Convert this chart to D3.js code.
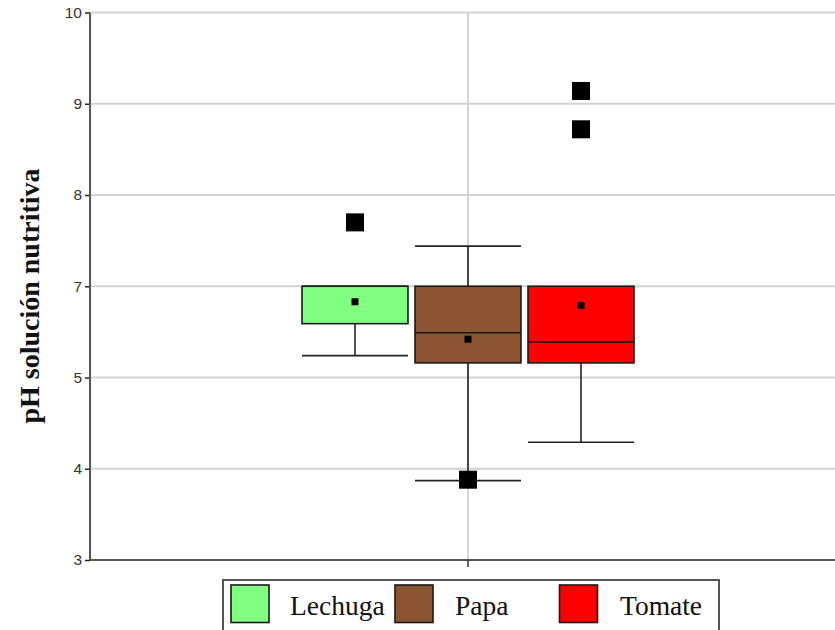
<!DOCTYPE html>
<html>
<head>
<meta charset="utf-8">
<script src="https://cdn.jsdelivr.net/npm/d3@7"></script>
<style>
  html, body { margin: 0; padding: 0; background: #fff; }
  svg { display: block; }
</style>
</head>
<body>
<svg id="chart" width="835" height="630"></svg>
<script>
// ---- data ----
const categories = [""];
const series = ["Lechuga", "Papa", "Tomate"];
const colors = ["#80ff80", "#8c5431", "#ff0000"];
// box statistics (in axis position units)
const q1 = [5.59, 5.16, 5.16];
const median = [6.0, 5.49, 5.39];
const q3 = [6.0, 6.0, 6.0];
const whiskerLow = [5.24, 3.87, 4.29];
const whiskerHigh = [6.0, 6.44, 6.0];
const means = [5.83, 5.42, 5.79];
const outliers = [[6.70], [3.88], [8.14, 7.72]];
// tick positions and their printed labels (as shown in the original)
const tickValues = [3, 4, 5, 6, 7, 8, 9];
const tickLabels = ["3", "4", "5", "7", "8", "9", "10"];
const yTitle = "pH solución nutritiva";

// ---- layout ----
const svg = d3.select("#chart");
const mLeft = 90, mRight = 846, mTop = 12.5, mBottom = 560;

const y = d3.scaleLinear().domain([3, 9]).range([mBottom, mTop]);
const x0 = d3.scaleBand().domain(categories).range([mLeft, mRight]);
const cx = x0(categories[0]) + x0.bandwidth() / 2;
const x1 = d3.scaleBand().domain(series)
  .range([cx - 169.5, cx + 169.5]).paddingInner(0.062).paddingOuter(0.031);

// gridlines
svg.append("g").selectAll("line").data(tickValues.slice(1)).join("line")
  .attr("x1", mLeft).attr("x2", 835)
  .attr("y1", d => y(d)).attr("y2", d => y(d))
  .attr("stroke", "#d4d4d4").attr("stroke-width", 2);
svg.append("line")
  .attr("x1", cx).attr("x2", cx).attr("y1", mTop).attr("y2", mBottom)
  .attr("stroke", "#d4d4d4").attr("stroke-width", 2);

// boxes
const g = svg.append("g");
series.forEach((s, i) => {
  const bx = x1(s), bw = x1.bandwidth(), mx = bx + bw / 2;
  // whiskers
  g.append("line").attr("x1", mx).attr("x2", mx)
    .attr("y1", y(q3[i])).attr("y2", y(whiskerHigh[i]))
    .attr("stroke", "#222").attr("stroke-width", 1.6);
  g.append("line").attr("x1", mx).attr("x2", mx)
    .attr("y1", y(q1[i])).attr("y2", y(whiskerLow[i]))
    .attr("stroke", "#222").attr("stroke-width", 1.6);
  if (whiskerHigh[i] > q3[i]) {
    g.append("line").attr("x1", bx).attr("x2", bx + bw)
      .attr("y1", y(whiskerHigh[i])).attr("y2", y(whiskerHigh[i]))
      .attr("stroke", "#222").attr("stroke-width", 1.6);
  }
  g.append("line").attr("x1", bx).attr("x2", bx + bw)
    .attr("y1", y(whiskerLow[i])).attr("y2", y(whiskerLow[i]))
    .attr("stroke", "#222").attr("stroke-width", 1.6);
  // box
  g.append("rect").attr("x", bx).attr("width", bw)
    .attr("y", y(q3[i])).attr("height", y(q1[i]) - y(q3[i]))
    .attr("fill", colors[i]).attr("stroke", "#1a1a1a").attr("stroke-width", 1.6);
  g.append("line").attr("x1", bx).attr("x2", bx + bw)
    .attr("y1", y(median[i])).attr("y2", y(median[i]))
    .attr("stroke", "#1a1a1a").attr("stroke-width", 1.6);
  // mean
  g.append("rect").attr("x", mx - 3.5).attr("y", y(means[i]) - 3.5)
    .attr("width", 7).attr("height", 7).attr("fill", "#000");
  // outliers
  g.selectAll(null).data(outliers[i]).join("rect")
    .attr("x", mx - 9).attr("y", d => y(d) - 9)
    .attr("width", 18).attr("height", 18).attr("fill", "#000");
});

// axes
const yAxis = d3.axisLeft(y).tickValues(tickValues)
  .tickFormat((d, i) => tickLabels[i]).tickSize(5).tickPadding(3);
const ya = svg.append("g").attr("transform", `translate(${mLeft},0)`).call(yAxis);
ya.select(".domain").remove();
ya.selectAll(".tick line").attr("stroke", "#222").attr("stroke-width", 1.5);
ya.selectAll(".tick text").attr("font-family", "Liberation Sans, Arial, sans-serif")
  .attr("font-size", 15.5).attr("fill", "#333");
svg.append("line").attr("x1", mLeft).attr("x2", mLeft).attr("y1", mTop).attr("y2", mBottom)
  .attr("stroke", "#555").attr("stroke-width", 2);
svg.append("line").attr("x1", mLeft).attr("x2", 835).attr("y1", mBottom).attr("y2", mBottom)
  .attr("stroke", "#555").attr("stroke-width", 2);
svg.append("line").attr("x1", cx).attr("x2", cx).attr("y1", mBottom).attr("y2", mBottom + 7)
  .attr("stroke", "#333").attr("stroke-width", 1.5);

// y title
svg.append("text")
  .attr("transform", `translate(39,296) rotate(-90)`)
  .attr("text-anchor", "middle")
  .attr("font-family", "Liberation Serif, Times New Roman, serif")
  .attr("font-weight", "bold").attr("font-size", 28).attr("fill", "#111")
  .text(yTitle);

// legend
const lg = svg.append("g");
lg.append("rect").attr("x", 223).attr("y", 580).attr("width", 496).attr("height", 70)
  .attr("fill", "#fff").attr("stroke", "#555").attr("stroke-width", 2);
const swX = [231, 395, 559.5], txX = [290, 455, 620];
series.forEach((s, i) => {
  lg.append("rect").attr("x", swX[i]).attr("y", 585).attr("width", 38).attr("height", 37.5)
    .attr("fill", colors[i]).attr("stroke", "#1a1a1a").attr("stroke-width", 1.6);
  lg.append("text").attr("x", txX[i]).attr("y", 615)
    .attr("font-family", "Liberation Serif, Times New Roman, serif")
    .attr("font-size", 27.5).attr("fill", "#111").text(s);
});
</script>
</body>
</html>
